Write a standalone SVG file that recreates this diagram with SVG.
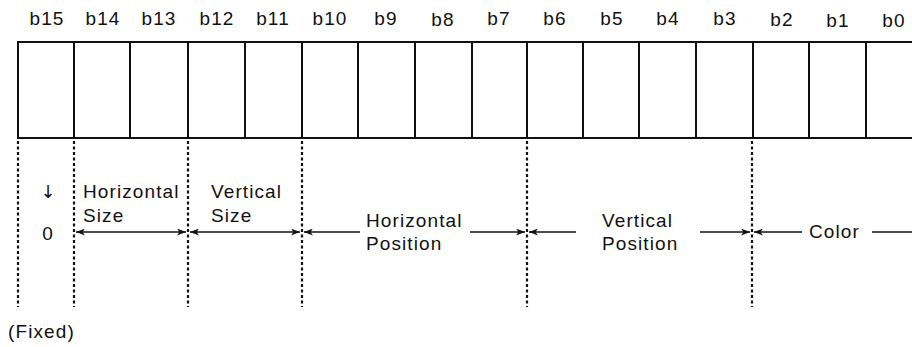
<svg xmlns="http://www.w3.org/2000/svg" width="912" height="347" viewBox="0 0 912 347">
<defs>
<style>
text{font-family:"Liberation Sans",Arial,sans-serif;font-size:19px;letter-spacing:1.1px;fill:#111}
.lbl{text-anchor:middle}
.cell{fill:#fff;stroke:#111;stroke-width:2}
.dot{stroke:#111;stroke-width:2.2;stroke-dasharray:3 2.5;fill:none}
.arr{stroke:#111;stroke-width:1.7;fill:none}
.down{font-family:"DejaVu Sans",sans-serif;font-size:18px;letter-spacing:0;text-anchor:middle;fill:#111}
</style>
<marker id="ah" markerUnits="userSpaceOnUse" markerWidth="9" markerHeight="7" refX="9" refY="3.5" orient="auto-start-reverse">
<path d="M0,0 L9,3.5 L0,7 L2.5,3.5 z" fill="#111"/>
</marker>
</defs>
<rect width="912" height="347" fill="#fff"/>
<g id="bits">
<g id="b15"><rect class="cell" x="18" y="42" width="56" height="96"/><text class="lbl" x="47" y="25">b15</text></g>
<g id="b14"><rect class="cell" x="74" y="42" width="56" height="96"/><text class="lbl" x="103" y="25">b14</text></g>
<g id="b13"><rect class="cell" x="130" y="42" width="58" height="96"/><text class="lbl" x="159" y="25">b13</text></g>
<g id="b12"><rect class="cell" x="188" y="42" width="57" height="96"/><text class="lbl" x="217" y="25">b12</text></g>
<g id="b11"><rect class="cell" x="245" y="42" width="57" height="96"/><text class="lbl" x="273" y="25">b11</text></g>
<g id="b10"><rect class="cell" x="302" y="42" width="56" height="96"/><text class="lbl" x="330" y="25">b10</text></g>
<g id="b9"><rect class="cell" x="358" y="42" width="57" height="96"/><text class="lbl" x="386" y="25">b9</text></g>
<g id="b8"><rect class="cell" x="415" y="42" width="57" height="96"/><text class="lbl" x="443" y="26">b8</text></g>
<g id="b7"><rect class="cell" x="472" y="42" width="55" height="96"/><text class="lbl" x="499" y="25">b7</text></g>
<g id="b6"><rect class="cell" x="527" y="42" width="56" height="96"/><text class="lbl" x="555" y="25">b6</text></g>
<g id="b5"><rect class="cell" x="583" y="42" width="56" height="96"/><text class="lbl" x="612" y="25">b5</text></g>
<g id="b4"><rect class="cell" x="639" y="42" width="57" height="96"/><text class="lbl" x="668" y="25">b4</text></g>
<g id="b3"><rect class="cell" x="696" y="42" width="57" height="96"/><text class="lbl" x="725" y="25">b3</text></g>
<g id="b2"><rect class="cell" x="753" y="42" width="56" height="96"/><text class="lbl" x="782" y="26">b2</text></g>
<g id="b1"><rect class="cell" x="809" y="42" width="57" height="96"/><text class="lbl" x="838" y="27">b1</text></g>
<g id="b0"><rect class="cell" x="866" y="42" width="57" height="96"/><text class="lbl" x="894" y="27">b0</text></g>
</g>
<g id="guides">
<line class="dot" x1="18" y1="141" x2="18" y2="307"/>
<line class="dot" x1="74" y1="141" x2="74" y2="307"/>
<line class="dot" x1="188" y1="141" x2="188" y2="307"/>
<line class="dot" x1="302" y1="141" x2="302" y2="307"/>
<line class="dot" x1="527" y1="141" x2="527" y2="307"/>
<line class="dot" x1="752" y1="141" x2="752" y2="307"/>
</g>
<g id="connectors">
<line class="arr" x1="76" y1="232" x2="186" y2="232" marker-start="url(#ah)" marker-end="url(#ah)"/>
<line class="arr" x1="190" y1="232" x2="300" y2="232" marker-start="url(#ah)" marker-end="url(#ah)"/>
<line class="arr" x1="304" y1="232" x2="360" y2="232" marker-start="url(#ah)"/>
<line class="arr" x1="470" y1="232" x2="525" y2="232" marker-end="url(#ah)"/>
<line class="arr" x1="529" y1="232" x2="576" y2="232" marker-start="url(#ah)"/>
<line class="arr" x1="700" y1="232" x2="750" y2="232" marker-end="url(#ah)"/>
<line class="arr" x1="754" y1="232" x2="802" y2="232" marker-start="url(#ah)"/>
<line class="arr" x1="872" y1="232" x2="912" y2="232"/>
</g>
<g id="fields">
<g id="fixed"><text x="48" y="198" class="down">↓</text><text x="48" y="240" class="lbl">0</text><text x="8" y="338">(Fixed)</text></g>
<g id="hsize"><text x="83" y="198">Horizontal</text><text x="83" y="222">Size</text></g>
<g id="vsize"><text x="211" y="198">Vertical</text><text x="211" y="222">Size</text></g>
<g id="hpos"><text x="366" y="227">Horizontal</text><text x="366" y="250">Position</text></g>
<g id="vpos"><text x="602" y="227">Vertical</text><text x="602" y="250">Position</text></g>
<g id="color"><text x="809" y="238">Color</text></g>
</g>
</svg>
